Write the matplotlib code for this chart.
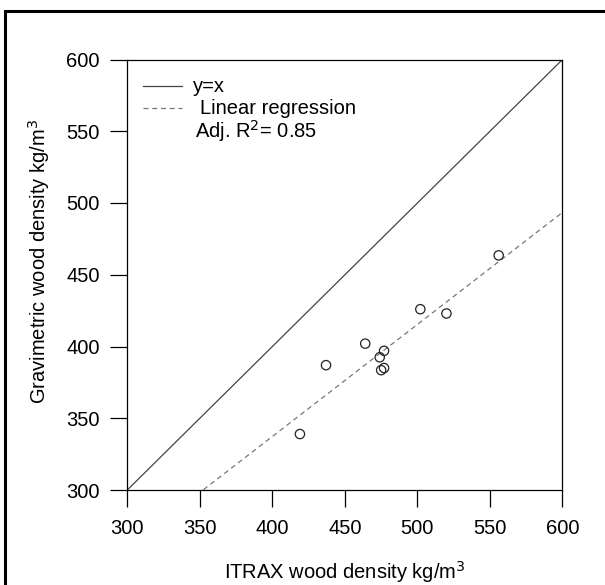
import numpy as np
import matplotlib
matplotlib.use("Agg")
import matplotlib.pyplot as plt
from matplotlib.patches import Rectangle

# values
itrax = [419, 437, 464, 474, 475, 477, 477, 502, 520, 556]
gravimetric = [339, 387, 402, 392.5, 383.5, 385, 397, 426, 423, 463.5]
ticks = [300, 350, 400, 450, 500, 550, 600]
adj_r2 = 0.85

plt.rcParams["font.family"] = ["Liberation Sans", "DejaVu Sans"]
FS = 14.5

fig = plt.figure(figsize=(6.05, 5.85), dpi=100)
ax = fig.add_axes([127.3 / 605, 1 - 490 / 585, 435.2 / 605, 430.5 / 585])

# outer frame, open to the right and bottom as in the reference
fig.patches.append(Rectangle((5 / 605, -0.2), 1.2, 0.2 + 1 - 11 / 585,
                             transform=fig.transFigure, fill=False,
                             edgecolor="black", linewidth=2.2))

ax.set_xlim(300, 600)
ax.set_ylim(300, 600)

ax.plot(ticks, ticks, color="#444444", linewidth=0.9)

slope, intercept = np.polyfit(itrax, gravimetric, 1)
xs = np.array([300.0, 600.0])
ax.plot(xs, intercept + slope * xs, color="#777777", linewidth=0.9,
        linestyle=(0, (4, 3)))

ax.scatter(itrax, gravimetric, s=45, facecolors="none", edgecolors="#222222",
           linewidths=0.9, zorder=3)

ax.set_xticks(ticks)
ax.set_yticks(ticks)
ax.tick_params(direction="out", length=12, width=0.9, labelsize=FS,
               colors="black")
ax.tick_params(axis="x", pad=9)
ax.tick_params(axis="y", pad=8)
for s in ax.spines.values():
    s.set_linewidth(0.9)

ax.set_xlabel("ITRAX wood density kg/m$^3$", fontsize=FS, labelpad=15)
ax.set_ylabel("Gravimetric wood density kg/m$^3$", fontsize=FS, labelpad=10)
ax.yaxis.label.set_y(0.53)

# legend drawn by hand like the R-style one in the picture
def ax_x(px):
    return (px - 127.3) / 435.2


def ax_y(py):
    return (490 - py) / 430.5


for yy, ls, col in [(86, "-", "#444444"), (108, (0, (4, 3)), "#777777")]:
    ax.plot([ax_x(143), ax_x(182)], [ax_y(yy), ax_y(yy)], transform=ax.transAxes,
            color=col, linewidth=0.9, linestyle=ls, clip_on=False)
ax.text(ax_x(193), ax_y(86), "y=x", transform=ax.transAxes, fontsize=FS,
        va="center")
ax.text(ax_x(200), ax_y(108), "Linear regression", transform=ax.transAxes,
        fontsize=FS, va="center")
ax.text(ax_x(195), ax_y(131), "Adj. R$^2$= %.2f" % adj_r2,
        transform=ax.transAxes, fontsize=FS, va="center")

fig.savefig("out.png", dpi=100)
